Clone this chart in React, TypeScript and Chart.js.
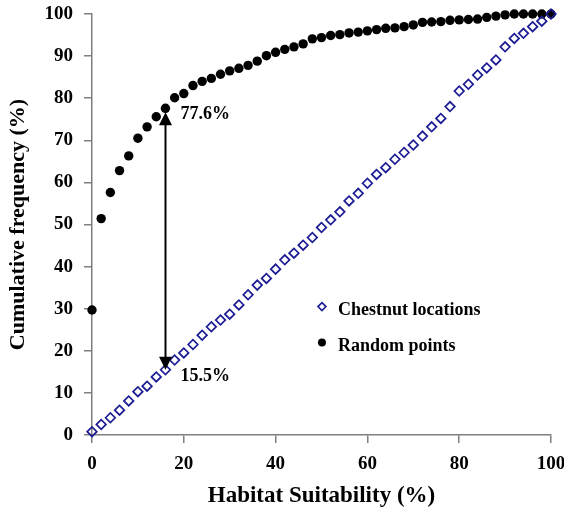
import React, { useEffect, useRef } from 'react';
import { Chart, registerables } from 'chart.js';

Chart.register(...registerables);

const SUITABILITY = [
  0, 2, 4, 6, 8, 10, 12, 14, 16, 18, 20, 22, 24, 26, 28, 30, 32, 34, 36, 38, 40,
  42, 44, 46, 48, 50, 52, 54, 56, 58, 60, 62, 64, 66, 68, 70, 72, 74, 76, 78, 80,
  82, 84, 86, 88, 90, 92, 94, 96, 98, 100,
];

const CHESTNUT = [
  0.8, 2.5, 4.1, 5.9, 8.1, 10.3, 11.6, 13.8, 15.5, 17.8, 19.5, 21.5, 23.7, 25.7, 27.3,
  28.7, 30.9, 33.3, 35.6, 37.2, 39.4, 41.6, 43.2, 45.1, 46.9, 49.3, 51.1, 53.0, 55.6,
  57.4, 59.8, 61.9, 63.5, 65.5, 67.1, 68.9, 71.0, 73.2, 75.2, 78.0, 81.7, 83.3, 85.5,
  87.2, 89.1, 92.2, 94.2, 95.4, 97.0, 98.3, 100,
];

const RANDOM = [
  29.7, 51.4, 57.6, 62.8, 66.3, 70.5, 73.2, 75.6, 77.6, 80.1, 81.1, 83.0, 84.0, 84.7,
  85.7, 86.5, 87.1, 87.8, 88.8, 90.1, 90.9, 91.6, 92.2, 92.9, 94.1, 94.4, 94.9, 95.1,
  95.5, 95.7, 96.0, 96.3, 96.6, 96.7, 97.0, 97.4, 98.0, 98.1, 98.2, 98.5, 98.6, 98.7,
  98.8, 99.2, 99.5, 99.8, 100, 100, 100, 100, 100,
];

const ANNOT_X = 16;
const ANNOT_HIGH = 77.6;
const ANNOT_LOW = 15.5;
const ANNOT_HIGH_LABEL = '77.6%';
const ANNOT_LOW_LABEL = '15.5%';

const LEGEND_LABELS = ['Chestnut locations', 'Random points'];
const X_TITLE = 'Habitat Suitability (%)';
const Y_TITLE = 'Cumulative frequency (%)';

const FONT = "'Liberation Serif', 'Times New Roman', serif";
const NAVY = '#1c1c94';
const AXIS_GREY = '#7f7f7f';

const annotPlugin = {
  id: 'annot',
  afterDraw(chart: any) {
    const { ctx, scales } = chart;
    const xs = scales.x;
    const ys = scales.y;
    ctx.save();
    // arrow
    const ax = Math.round(xs.getPixelForValue(ANNOT_X)) + 0.5;
    const topTip = ys.getPixelForValue(ANNOT_HIGH) + 4;
    const botTip = ys.getPixelForValue(ANNOT_LOW);
    const head = 13;
    const hw = 6.5;
    ctx.strokeStyle = '#000';
    ctx.fillStyle = '#000';
    ctx.lineWidth = 2;
    ctx.beginPath();
    ctx.moveTo(ax, topTip + head - 1);
    ctx.lineTo(ax, botTip - head + 1);
    ctx.stroke();
    ctx.beginPath();
    ctx.moveTo(ax, topTip);
    ctx.lineTo(ax - hw, topTip + head);
    ctx.lineTo(ax + hw, topTip + head);
    ctx.closePath();
    ctx.fill();
    ctx.beginPath();
    ctx.moveTo(ax, botTip);
    ctx.lineTo(ax - hw, botTip - head);
    ctx.lineTo(ax + hw, botTip - head);
    ctx.closePath();
    ctx.fill();

    ctx.font = `bold 18px ${FONT}`;
    ctx.textAlign = 'left';
    ctx.textBaseline = 'middle';
    ctx.fillText(ANNOT_HIGH_LABEL, ax + 15, topTip + 2);
    ctx.fillText(ANNOT_LOW_LABEL, ax + 15, botTip + 7);

    // legend
    const lx = xs.getPixelForValue(50.1);
    const ly1 = ys.getPixelForValue(30.5);
    const ly2 = ys.getPixelForValue(22.0);
    const r = 4;
    ctx.strokeStyle = NAVY;
    ctx.lineWidth = 1.6;
    ctx.beginPath();
    ctx.moveTo(lx, ly1 - r);
    ctx.lineTo(lx + r, ly1);
    ctx.lineTo(lx, ly1 + r);
    ctx.lineTo(lx - r, ly1);
    ctx.closePath();
    ctx.stroke();
    ctx.fillStyle = '#000';
    ctx.beginPath();
    ctx.arc(lx, ly2, 4, 0, Math.PI * 2);
    ctx.fill();
    ctx.fillText(LEGEND_LABELS[0], lx + 16, ly1 + 4);
    ctx.fillText(LEGEND_LABELS[1], lx + 16, ly2 + 4);
    ctx.restore();
  },
};

export default function App() {
  const ref = useRef<HTMLCanvasElement>(null);

  useEffect(() => {
    if (!ref.current) return;
    const tickFont = { family: FONT, size: 19, weight: 'bold' as const };
    const chart = new Chart(ref.current, {
      type: 'scatter',
      data: {
        datasets: [
          {
            label: LEGEND_LABELS[0],
            data: SUITABILITY.map((x, i) => ({ x, y: CHESTNUT[i] })),
            pointStyle: 'rectRot',
            pointRadius: 4.8,
            backgroundColor: 'rgba(255,255,255,0)',
            borderColor: NAVY,
            borderWidth: 1.7,
            showLine: false,
            clip: false,
          },
          {
            label: LEGEND_LABELS[1],
            data: SUITABILITY.map((x, i) => ({ x, y: RANDOM[i] })),
            pointStyle: 'circle',
            pointRadius: 4.7,
            backgroundColor: '#000',
            borderColor: '#000',
            borderWidth: 0,
            showLine: false,
            clip: false,
          },
        ],
      },
      options: {
        responsive: false,
        animation: false,
        devicePixelRatio: 1,
        events: [],
        layout: { padding: { left: 0, top: 14, right: 13, bottom: 0 } },
        plugins: { legend: { display: false }, tooltip: { enabled: false } },
        scales: {
          x: {
            type: 'linear',
            min: 0,
            max: 100,
            ticks: { stepSize: 20, color: '#000', font: tickFont, padding: 10 },
            grid: { drawOnChartArea: false, drawTicks: true, tickLength: 8, color: AXIS_GREY, lineWidth: 1.5 },
            border: { display: true, color: AXIS_GREY, width: 1.5 },
            title: { display: true, text: X_TITLE, color: '#000', font: { family: FONT, size: 23, weight: 'bold' }, padding: { top: 0, bottom: 6 } },
            afterFit: (s: any) => { s.height = 81; s.paddingLeft = 0; s.paddingRight = 0; },
          },
          y: {
            type: 'linear',
            min: 0,
            max: 100,
            ticks: { stepSize: 10, color: '#000', font: tickFont, padding: 11 },
            grid: { drawOnChartArea: false, drawTicks: true, tickLength: 8, color: AXIS_GREY, lineWidth: 1.5 },
            border: { display: true, color: AXIS_GREY, width: 1.5 },
            title: { display: true, text: Y_TITLE, color: '#000', font: { family: FONT, size: 22, weight: 'bold' }, padding: { top: 5, bottom: 0 } },
            afterFit: (s: any) => { s.width = 92; s.paddingTop = 0; s.paddingBottom = 0; },
          },
        },
      },
      plugins: [annotPlugin],
    });
    return () => chart.destroy();
  }, []);

  return (
    <div style={{ position: 'fixed', left: 0, top: 0, width: 564, height: 516, background: '#fff' }}>
      <canvas ref={ref} width={564} height={516} style={{ display: 'block', width: 564, height: 516 }} />
    </div>
  );
}
